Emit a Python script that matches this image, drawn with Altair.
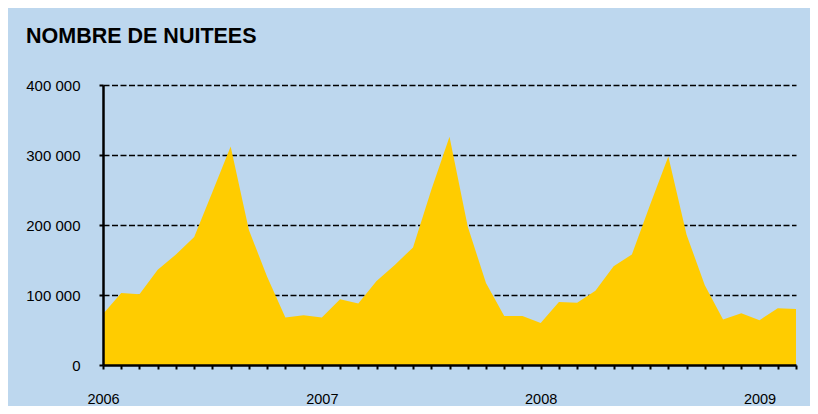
import altair as alt
import pandas as pd

# Months (Jan 2006 .. Mar 2009)
mois = [
    "2006-01", "2006-02", "2006-03", "2006-04", "2006-05", "2006-06",
    "2006-07", "2006-08", "2006-09", "2006-10", "2006-11", "2006-12",
    "2007-01", "2007-02", "2007-03", "2007-04", "2007-05", "2007-06",
    "2007-07", "2007-08", "2007-09", "2007-10", "2007-11", "2007-12",
    "2008-01", "2008-02", "2008-03", "2008-04", "2008-05", "2008-06",
    "2008-07", "2008-08", "2008-09", "2008-10", "2008-11", "2008-12",
    "2009-01", "2009-02", "2009-03",
]

# Number of overnight stays
nuitees = [
    73000, 103000, 101000, 136000, 158000, 183000,
    247000, 312000, 193000, 126000, 68000, 71000,
    68000, 94000, 88000, 120000, 143000, 168000,
    250000, 326000, 198000, 117000, 70000, 70000,
    60000, 90000, 89000, 106000, 141000, 158000,
    229000, 298000, 186000, 114000, 65000, 74000,
    64000, 81000, 80000,
]

grid_values = [100000, 200000, 300000, 400000]
tick_values = [0, 100000, 200000, 300000, 400000]

df = pd.DataFrame({"mois": mois, "nuitees": nuitees})

x_scale = alt.Scale(type="point", padding=0)
y_scale = alt.Scale(domain=[0, 400000], nice=False)

area = alt.Chart(df).mark_area(color="#FFCC00", opacity=1, interpolate="linear").encode(
    x=alt.X("mois:O", sort=None, scale=x_scale, axis=None),
    y=alt.Y(
        "nuitees:Q",
        scale=y_scale,
        axis=alt.Axis(
            orient="left", grid=True, domain=False, ticks=False, labels=False,
            values=grid_values, gridColor="#000000", gridDash=[6, 2.5],
            gridWidth=1.6, gridOpacity=1, title=None, zindex=0,
        ),
    ),
)

axes = alt.Chart(df).mark_line(opacity=0).encode(
    x=alt.X(
        "mois:O", sort=None, scale=x_scale,
        axis=alt.Axis(
            orient="bottom", values=mois, title=None, grid=False,
            labelExpr="slice(datum.value, 5, 7) == '01' ? slice(datum.value, 0, 4) : ''",
            labelAngle=0, labelOverlap=False, labelFont="Liberation Sans",
            labelFontSize=14.5, labelColor="#000000", labelPadding=23,
            tickSize=4, tickWidth=2, tickColor="#000000",
            domainColor="#000000", domainWidth=2.5, zindex=1,
        ),
    ),
    y=alt.Y(
        "nuitees:Q", scale=y_scale,
        axis=alt.Axis(
            orient="left", values=tick_values, title=None, grid=False,
            labelExpr="replace(format(datum.value, ','), ',', ' ')",
            labelFont="Liberation Sans", labelFontSize=15, labelColor="#000000",
            labelPadding=19, tickSize=4, tickWidth=2, tickColor="#000000",
            domainColor="#000000", domainWidth=2.5, zindex=1,
        ),
    ),
)

chart = (
    alt.layer(area, axes)
    .resolve_axis(x="independent", y="independent")
    .properties(
        width=693,
        height=280,
        background="#BDD7EE",
        autosize=alt.AutoSizeParams(type="none"),
        padding={"left": 95, "top": 77, "right": 14, "bottom": 41},
        title=alt.TitleParams(
            "NOMBRE DE NUITEES", anchor="start", frame="group", font="Liberation Sans",
            fontSize=21.5, fontWeight="bold", color="#000000", dx=-77, offset=31,
        ),
    )
    .configure_view(stroke=None)
)

chart.save("out.html", embed_options={"renderer": "svg", "actions": False})
